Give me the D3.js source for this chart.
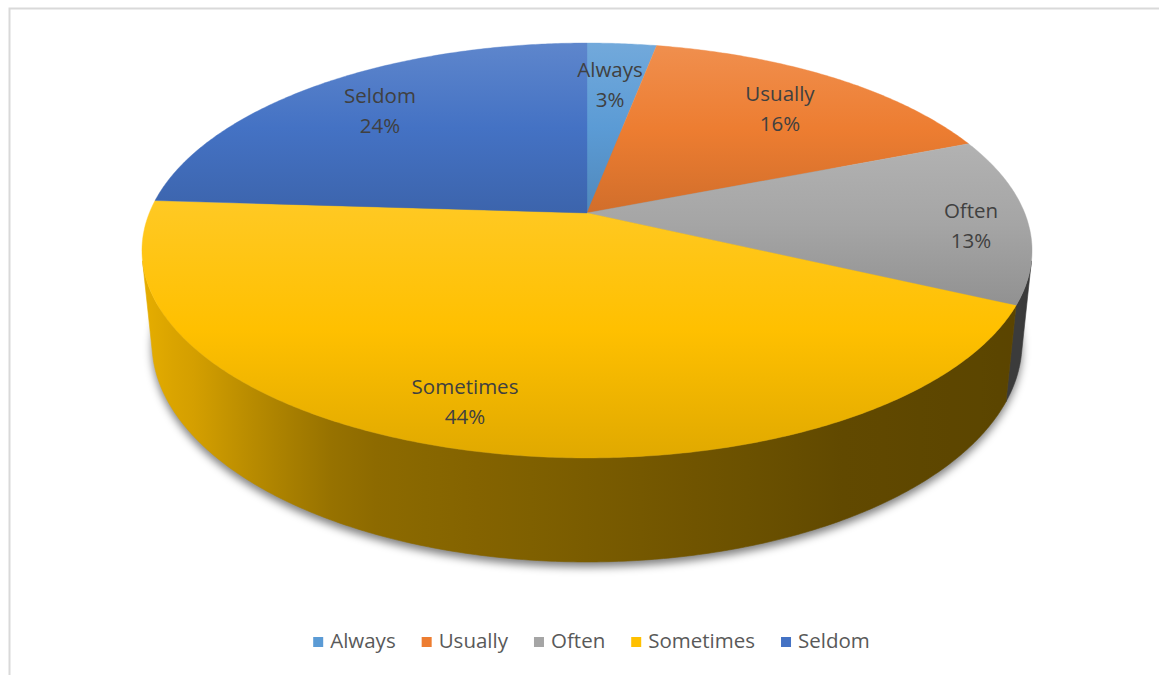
<!DOCTYPE html>
<html>
<head>
<meta charset="utf-8">
<script src="https://cdn.jsdelivr.net/npm/d3@7"></script>
<style>
  html, body { margin: 0; padding: 0; background: #fff; }
  svg { display: block; }
  text { font-family: "Open Sans", "Noto Sans", sans-serif; }
</style>
</head>
<body>
<svg id="chart" width="1159" height="675"></svg>
<script>
// Survey answers and their shares (percent)
const categories = ["Always", "Usually", "Often", "Sometimes", "Seldom"];
const shares = [3, 16, 13, 44, 24];
const colors = ["#5B9BD5", "#ED7D31", "#A5A5A5", "#FFC000", "#4472C4"];

// label centres on the pie face (pixels)
const labelAt = [[610, 86], [780, 110], [971, 227], [465, 403], [380, 112]];

const W = 1159, H = 675;
const FONT = 20.5;
const svg = d3.select("#chart");
const defs = svg.append("defs");

// frame of the chart area
svg.append("path")
  .attr("d", `M9.5,${H + 5} L9.5,8.5 L${W + 5},8.5`)
  .attr("fill", "none").attr("stroke", "#d9d9d9").attr("stroke-width", 2);

// ---- perspective view of a flat disc (camera distance = 1) ----
const view = { cx: 587, cy: 213, f: 2153, R: 0.2033, sinPhi: 0.4585, h: 0.0486 };
view.cosPhi = Math.sqrt(1 - view.sinPhi * view.sinPhi);

// theta: clockwise from 12 o'clock, r: fraction of radius, drop: 0 = top, 1 = bottom rim
function project(theta, r = 1, drop = 0) {
  const X = view.R * r * Math.sin(theta);
  const Z = view.R * r * Math.cos(theta);
  const Y = -drop * view.h;
  const dep = 1 - Y * view.sinPhi + Z * view.cosPhi;
  const up = Y * view.cosPhi + Z * view.sinPhi;
  return [view.cx + view.f * X / dep, view.cy - view.f * up / dep];
}

function arcPoints(a0, a1, drop) {
  const n = Math.max(2, Math.ceil(Math.abs(a1 - a0) / (Math.PI / 360)));
  return d3.range(n + 1).map(i => project(a0 + (a1 - a0) * i / n, 1, drop));
}

const pie = d3.pie().sort(null).value(d => d).startAngle(0).endAngle(2 * Math.PI);
const arcs = pie(shares);

// ---- drop shadow below the body ----
const shadowF = defs.append("filter").attr("id", "shadowBlur")
  .attr("x", "-10%").attr("y", "-10%").attr("width", "120%").attr("height", "130%");
shadowF.append("feGaussianBlur").attr("stdDeviation", 4);

const bottomRim = arcPoints(0, 2 * Math.PI, 1);
svg.append("path")
  .attr("d", d3.line()(bottomRim) + "Z")
  .attr("transform", "translate(0,5)")
  .attr("fill", "#000").attr("fill-opacity", 0.5)
  .attr("filter", "url(#shadowBlur)");

// ---- outer wall: only the part facing the viewer ----
const wallStart = Math.acos(-view.R / view.cosPhi);       // right silhouette
const wallEnd = 2 * Math.PI - wallStart;                   // left silhouette
const shade = d3.scaleLinear()
  .domain([-1, -0.8, -0.45, 0, 0.5, 1])
  .range([0.92, 0.83, 0.56, 0.48, 0.38, 0.35]);
function shaded(base, theta) {
  const c = d3.rgb(base), k = shade(Math.sin(theta));
  return d3.rgb(c.r * k, c.g * k, c.b * k).formatHex();
}

const wall = svg.append("g");
arcs.forEach((a, i) => {
  const a0 = Math.max(a.startAngle, wallStart);
  const a1 = Math.min(a.endAngle, wallEnd);
  if (a1 <= a0) return;
  const top = arcPoints(a0, a1, 0);
  const bot = arcPoints(a0, a1, 1).reverse();
  const xs = top.map(p => p[0]);
  const x1 = d3.min(xs), x2 = d3.max(xs);
  const g = defs.append("linearGradient").attr("id", "wall" + i)
    .attr("gradientUnits", "userSpaceOnUse")
    .attr("x1", x1).attr("y1", 0).attr("x2", x2).attr("y2", 0);
  const steps = 24;
  d3.range(steps + 1).map(s => a0 + (a1 - a0) * s / steps)
    .map(t => ({ x: project(t)[0], t }))
    .sort((p, q) => p.x - q.x)
    .forEach(p => g.append("stop")
      .attr("offset", x2 > x1 ? (p.x - x1) / (x2 - x1) : 0)
      .attr("stop-color", shaded(colors[i], p.t)));
  wall.append("path")
    .attr("d", d3.line()(top.concat(bot)) + "Z")
    .attr("fill", `url(#wall${i})`)
    .attr("stroke", `url(#wall${i})`).attr("stroke-width", 0.6);
});

// ---- top face ----
const face = svg.append("g");
arcs.forEach((a, i) => {
  const base = d3.rgb(colors[i]);
  const g = defs.append("linearGradient").attr("id", "face" + i)
    .attr("x1", 0).attr("y1", 0).attr("x2", 0).attr("y2", 1);
  g.append("stop").attr("offset", 0).attr("stop-color", d3.interpolateRgb(base, "#fff")(0.14));
  g.append("stop").attr("offset", 0.5).attr("stop-color", base.formatHex());
  g.append("stop").attr("offset", 1)
    .attr("stop-color", d3.rgb(base.r * 0.88, base.g * 0.88, base.b * 0.88).formatHex());
  const pts = [project(0, 0)].concat(arcPoints(a.startAngle, a.endAngle, 0));
  face.append("path")
    .attr("d", d3.line()(pts) + "Z")
    .attr("fill", `url(#face${i})`)
    .attr("stroke", `url(#face${i})`).attr("stroke-width", 0.4);
});

// ---- data labels ----
const labels = svg.append("g")
  .attr("fill", "#404040").attr("font-size", FONT).attr("text-anchor", "middle");
categories.forEach((c, i) => {
  const [x, y] = labelAt[i];
  const t = labels.append("text").attr("x", x).attr("y", y);
  t.append("tspan").attr("x", x).attr("dy", "-0.42em").text(c);
  t.append("tspan").attr("x", x).attr("dy", "1.45em").text(shares[i] + "%");
});

// ---- legend ----
const legend = svg.append("g").attr("font-size", FONT).attr("fill", "#595959");
const items = categories.map((c, i) => {
  const g = legend.append("g");
  g.append("rect").attr("width", 10).attr("height", 10).attr("y", -11).attr("fill", colors[i]);
  const t = g.append("text").attr("x", 17).attr("y", 0).text(c);
  return { g, w: 17 + t.node().getComputedTextLength() };
});
const gap = 26;
const total = d3.sum(items, d => d.w) + gap * (items.length - 1);
let lx = 591.5 - total / 2;
items.forEach(d => {
  d.g.attr("transform", `translate(${lx},648)`);
  lx += d.w + gap;
});
</script>
</body>
</html>
